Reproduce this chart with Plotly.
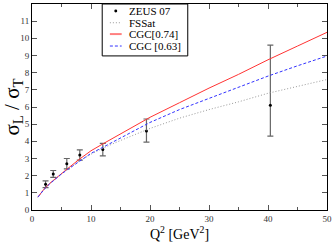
import plotly.graph_objects as go

# ZEUS 07 data
zeus_q2 = [2.3, 3.6, 5.9, 8.1, 12.0, 19.4, 40.4]
zeus_r = [1.5, 2.1, 2.7, 3.2, 3.53, 4.6, 6.1]
zeus_err_up = [0.2, 0.2, 0.3, 0.3, 0.35, 0.7, 3.5]
zeus_err_dn = [0.2, 0.2, 0.3, 0.3, 0.38, 0.65, 1.8]

# Model curves
q2 = [1, 2, 3, 4, 5, 6, 8, 10, 12, 15, 20, 25, 30, 35, 40, 45, 50]
fssat = [0.75, 1.18, 1.52, 1.82, 2.1, 2.35, 2.85, 3.25, 3.6, 4.05, 4.75, 5.35, 5.85, 6.3, 6.8, 7.2, 7.6]
cgc074 = [0.75, 1.2, 1.55, 1.85, 2.15, 2.4, 2.95, 3.45, 3.85, 4.45, 5.4, 6.25, 7.1, 7.9, 8.75, 9.55, 10.35]
cgc063 = [0.75, 1.18, 1.52, 1.82, 2.1, 2.35, 2.85, 3.3, 3.65, 4.2, 5.1, 5.85, 6.5, 7.15, 7.8, 8.4, 8.97]

legend_labels = ["ZEUS 07", "FSSat", "CGC[0.74]", "CGC [0.63]"]

RED = "#ff3333"
BLUE = "#3333ff"
GRAY = "#999999"

fig = go.Figure()
fig.add_trace(go.Scatter(
    x=zeus_q2, y=zeus_r, mode="markers", name=legend_labels[0],
    marker=dict(color="black", size=3),
    error_y=dict(type="data", symmetric=False, array=zeus_err_up, arrayminus=zeus_err_dn,
                 color="#666666", thickness=1.2, width=3),
))
fig.add_trace(go.Scatter(x=q2, y=fssat, mode="lines", name=legend_labels[1],
                         line=dict(color=GRAY, width=1, dash="1px,2px")))
fig.add_trace(go.Scatter(x=q2, y=cgc074, mode="lines", name=legend_labels[2],
                         line=dict(color=RED, width=1)))
fig.add_trace(go.Scatter(x=q2, y=cgc063, mode="lines", name=legend_labels[3],
                         line=dict(color=BLUE, width=1, dash="3px,2px")))

axis_common = dict(
    showgrid=False, zeroline=False, showline=True, linecolor="black", linewidth=1,
    mirror="allticks", ticks="inside", ticklen=5, tickcolor="#555555", automargin=False,
    tickfont=dict(family="Liberation Serif", size=9, color="#333333"),
)
fig.update_xaxes(range=[0, 50], dtick=10, tick0=0,
                 minor=dict(ticks="inside", dtick=5, ticklen=3, tickcolor="#555555"),
                 title=dict(text="Q<sup>2</sup> [GeV<sup>2</sup>]", standoff=2,
                            font=dict(family="Liberation Serif", size=14, color="black")),
                 **axis_common)
fig.update_yaxes(range=[0, 12], dtick=1, tick0=0,
                 title=dict(text="σ<sub>L</sub> / σ<sub>T</sub>", standoff=1,
                            font=dict(family="Liberation Serif", size=21, color="black")),
                 **axis_common)

# Compact legend box (drawn in paper coordinates)
lx0, lx1, ly0, ly1 = 0.238, 0.528, 0.748, 1.0
row_y = [0.966, 0.909, 0.854, 0.796]
sym_x0, sym_x1, sym_xc, text_x = 0.264, 0.304, 0.284, 0.322
shapes = [dict(type="rect", xref="paper", yref="paper", x0=lx0, x1=lx1, y0=ly0, y1=ly1,
               line=dict(color="black", width=1), fillcolor="white", layer="above")]
shapes.append(dict(type="circle", xref="paper", yref="paper",
                   x0=sym_xc - 0.005, x1=sym_xc + 0.005,
                   y0=row_y[0] - 0.007, y1=row_y[0] + 0.007,
                   line=dict(color="black", width=0), fillcolor="black", layer="above"))
for yy, col, dash, w in [(row_y[1], GRAY, "1px,2px", 1), (row_y[2], "#ff8080", "solid", 2),
                         (row_y[3], BLUE, "3px,2px", 1)]:
    shapes.append(dict(type="line", xref="paper", yref="paper", x0=sym_x0, x1=sym_x1,
                       y0=yy, y1=yy, line=dict(color=col, width=w, dash=dash), layer="above"))
annotations = [dict(xref="paper", yref="paper", x=text_x, y=yy, text=lab, showarrow=False,
                    xanchor="left", yanchor="middle",
                    font=dict(family="Liberation Serif", size=11, color="black"))
               for yy, lab in zip(row_y, legend_labels)]

fig.update_layout(
    width=332, height=242,
    margin=dict(l=32, r=5, t=4, b=32),
    plot_bgcolor="white", paper_bgcolor="white",
    showlegend=False,
    shapes=shapes, annotations=annotations,
)
fig.write_html("out.html", config={"displayModeBar": False},
               post_script="document.body.style.margin='0';")
